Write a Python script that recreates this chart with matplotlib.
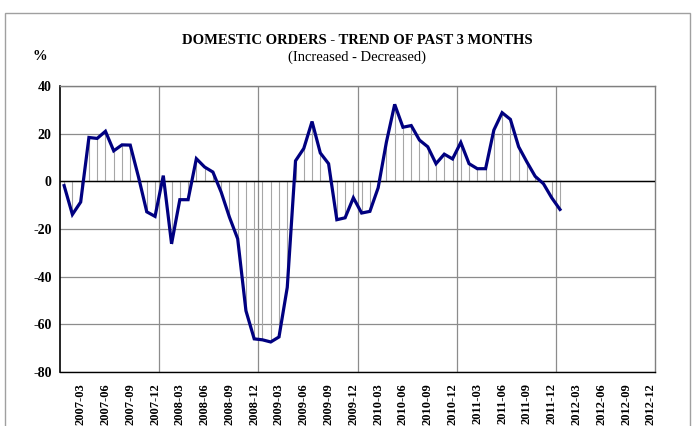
import matplotlib
matplotlib.use("Agg")
import matplotlib.pyplot as plt
from matplotlib.patches import Rectangle

plt.rcParams['font.family'] = ['Liberation Serif', 'DejaVu Serif']

# monthly categories 2007-01 .. 2012-12
years = [2007, 2008, 2009, 2010, 2011, 2012]
months = [f"{y}-{m:02d}" for y in years for m in range(1, 13)]

# balance (increased - decreased), 2007-01 .. 2012-01
values = [
    -1.8, -13.9, -8.7, 18.4, 18.0, 21.0, 12.8, 15.3, 15.2, 1.8, -12.8, -14.7,
    2.4, -26.2, -7.7, -7.7, 9.5, 6.0, 3.9, -4.5, -15.0, -24.1, -54.3, -66.1,
    -66.5, -67.4, -65.3, -44.5, 8.6, 13.8, 25.1, 11.9, 7.4, -16.1, -15.3, -6.9,
    -13.3, -12.6, -2.7, 16.5, 32.3, 22.7, 23.4, 17.3, 14.5, 7.4, 11.4, 9.4,
    16.3, 7.4, 5.3, 5.3, 21.5, 28.8, 26.0, 14.5, 8.1, 2.1, -1.0, -6.9,
    -11.8,
]

W, H = 692, 426
fig = plt.figure(figsize=(W / 100, H / 100), dpi=100)
ax = fig.add_axes([60 / W, 1 - 372 / H, 595 / W, 286 / H])

x = list(range(len(values)))

# drop lines to zero
ax.vlines(x, 0, values, color='#a6a6a6', lw=0.8, zorder=2)
ax.axhline(0, color='black', lw=1.0, zorder=3)
ax.plot(x, values, color='#000080', lw=2.3, zorder=4, solid_joinstyle='miter')

ax.set_xlim(-0.5, len(months) - 0.5)
ax.set_ylim(-80, 40)
ax.set_yticks(range(-80, 41, 20))
ax.set_yticklabels([str(v) for v in range(-80, 41, 20)], fontweight='bold', fontsize=10)

lab_idx = list(range(2, len(months), 3))
ax.set_xticks(lab_idx)
ax.set_xticklabels([months[i] for i in lab_idx], rotation=90, fontweight='bold', fontsize=9)
ax.set_xticks([i - 0.5 for i in range(12, len(months), 12)], minor=True)

ax.tick_params(axis='x', which='both', length=0, pad=8)
ax.tick_params(axis='y', length=0, pad=6)
ax.grid(True, axis='y', which='major', color='#8c8c8c', lw=0.9)
ax.grid(True, axis='x', which='minor', color='#8c8c8c', lw=0.9)
ax.set_axisbelow(True)

for s in ['top', 'right']:
    ax.spines[s].set_color('#7f7f7f')
    ax.spines[s].set_linewidth(1.0)
ax.spines['left'].set_color('black')
ax.spines['bottom'].set_color('black')
ax.spines['left'].set_linewidth(1.2)
ax.spines['bottom'].set_linewidth(1.0)

fig.text(357 / W, 1 - 40 / H, "DOMESTIC ORDERS - TREND OF PAST 3 MONTHS",
         ha='center', va='center', fontweight='bold', fontsize=10.5)
fig.text(357 / W, 1 - 57 / H, "(Increased - Decreased)",
         ha='center', va='center', fontsize=10.5)
fig.text(40 / W, 1 - 57 / H, "%", ha='center', va='center',
         fontweight='bold', fontsize=10.5)

# outer chart frame
fig.patches.append(Rectangle((5 / W, -0.05), 685 / W, 1 - 13 / H + 0.05,
                             transform=fig.transFigure, fill=False,
                             edgecolor='#a0a0a0', lw=1.0))

fig.savefig("out.png", dpi=100)
